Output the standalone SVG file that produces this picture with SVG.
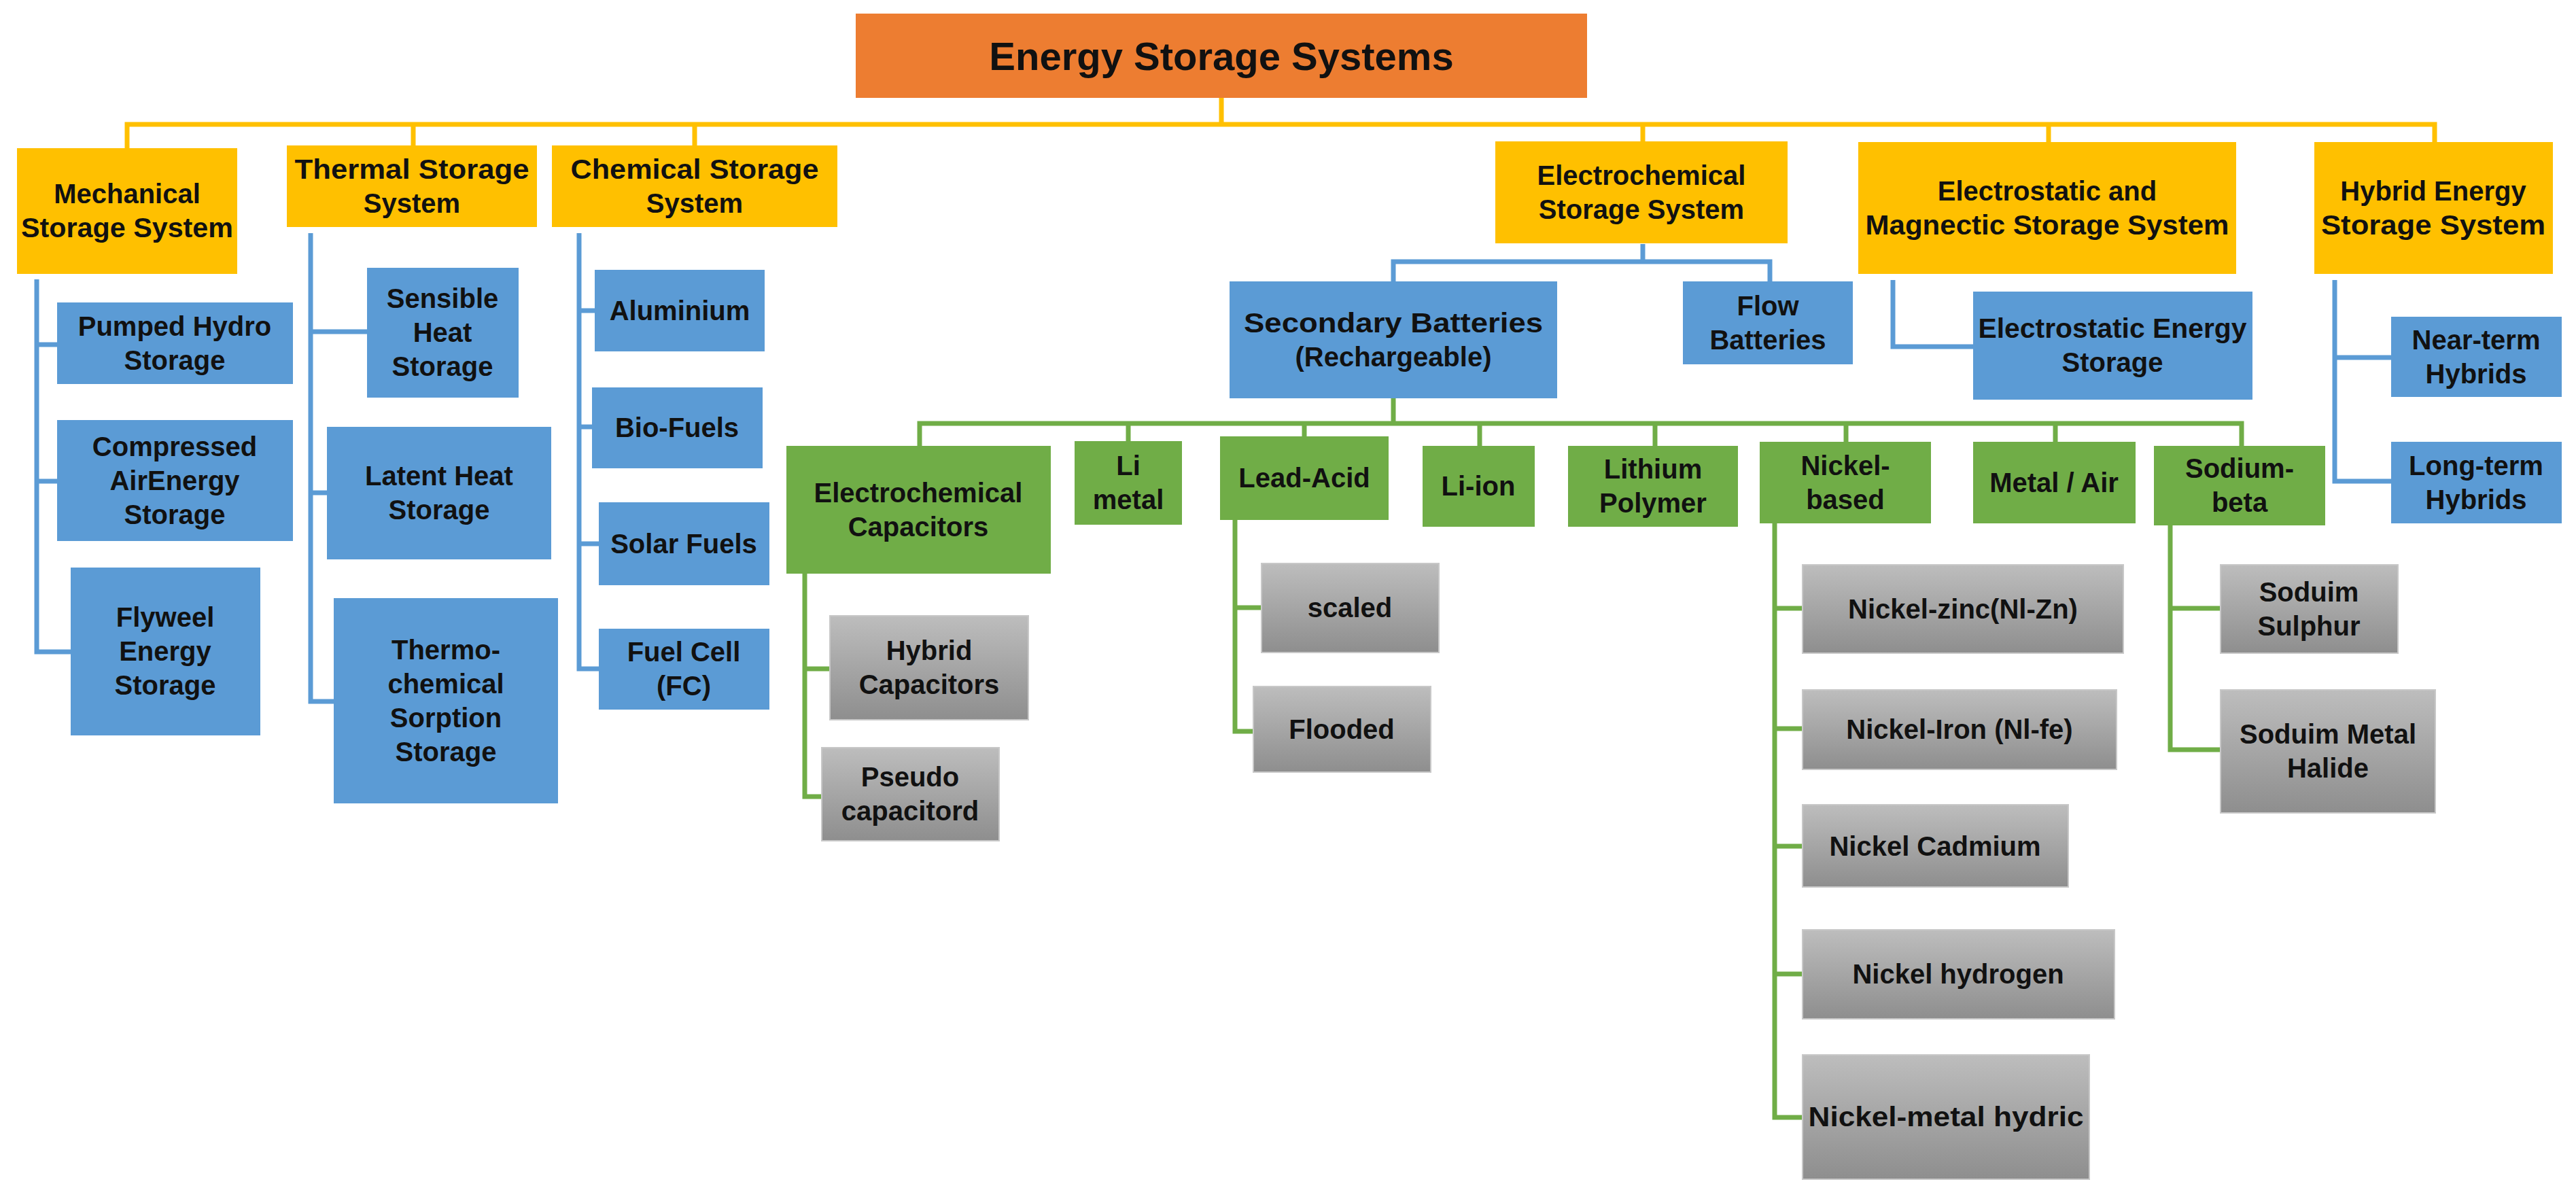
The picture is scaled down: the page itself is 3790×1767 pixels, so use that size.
<svg xmlns="http://www.w3.org/2000/svg" width="3790" height="1767" viewBox="0 0 3790 1767">
<defs>
<linearGradient id="gg" x1="0" y1="0" x2="0" y2="1"><stop offset="0" stop-color="#bdbdbd"/><stop offset="1" stop-color="#8e8e8e"/></linearGradient>
</defs>
<style>
text{font-family:"Liberation Sans",Arial,sans-serif;font-weight:bold;font-size:40px;text-anchor:middle;fill:#111}
.o{fill:#ED7D31}.y{fill:#FFC000}.b{fill:#5B9BD5}.g{fill:#70AD47}.r{fill:url(#gg);stroke:#c8c8c8;stroke-width:2}
.cy{stroke:#FFC000;stroke-width:7;fill:none}.cb{stroke:#5B9BD5;stroke-width:7;fill:none}.cg{stroke:#70AD47;stroke-width:7;fill:none}
</style>
<rect width="3790" height="1767" fill="#fff"/>
<g id="connectors">
<path class="cy" d="M1797,144V183M187,218V183H3582V209M608,183V214M1022,183V214M2417,183V208M3014,183V209"/>
<path class="cb" d="M54,411V959H104M54,507H84M54,708H84"/>
<path class="cb" d="M457,343V1032H491M457,488H540M457,725H481"/>
<path class="cb" d="M852,343V984H881M852,457H875M852,628H871M852,800H881"/>
<path class="cb" d="M2417,359V385M2050,414V385H2604V414"/>
<path class="cb" d="M2785,412V510H2903"/>
<path class="cb" d="M3435,412V708H3518M3435,526H3518"/>
<path class="cg" d="M2050,586V623M1353,656V623H3298V656M1660,623V649M1919,623V642M2177,623V656M2435,623V656M2716,623V650M3024,623V650"/>
<path class="cg" d="M1184,844V1172H1209M1184,984H1221"/>
<path class="cg" d="M1817,765V1076H1844M1817,894H1856"/>
<path class="cg" d="M2611,770V1644H2652M2611,895H2652M2611,1072H2652M2611,1245H2652M2611,1433H2652"/>
<path class="cg" d="M3193,773V1103H3267M3193,895H3267"/>
</g>
<g id="root"><rect class="o" x="1259" y="20" width="1076" height="124"/><text x="1797" y="103" style="font-size:58px">Energy Storage Systems</text></g>
<g id="mech"><rect class="y" x="25" y="218" width="324" height="185"/><text x="187" y="299">Mechanical</text><text x="187" y="349" textLength="312" lengthAdjust="spacingAndGlyphs">Storage System</text></g>
<g id="thermal"><rect class="y" x="422" y="214" width="368" height="120"/><text x="606" y="263" textLength="345" lengthAdjust="spacingAndGlyphs">Thermal Storage</text><text x="606" y="313">System</text></g>
<g id="chemical"><rect class="y" x="812" y="214" width="420" height="120"/><text x="1022" y="263" textLength="365" lengthAdjust="spacingAndGlyphs">Chemical Storage</text><text x="1022" y="313">System</text></g>
<g id="electrochem"><rect class="y" x="2200" y="208" width="430" height="150"/><text x="2415" y="272">Electrochemical</text><text x="2415" y="322">Storage System</text></g>
<g id="electrostatic"><rect class="y" x="2734" y="209" width="556" height="194"/><text x="3012" y="295">Electrostatic and</text><text x="3012" y="345" textLength="535" lengthAdjust="spacingAndGlyphs">Magnectic Storage System</text></g>
<g id="hybrid"><rect class="y" x="3405" y="209" width="351" height="194"/><text x="3580" y="295">Hybrid Energy</text><text x="3580" y="345" textLength="330" lengthAdjust="spacingAndGlyphs">Storage System</text></g>
<g id="pumped"><rect class="b" x="84" y="445" width="347" height="120"/><text x="257" y="494">Pumped Hydro</text><text x="257" y="544">Storage</text></g>
<g id="compressed"><rect class="b" x="84" y="618" width="347" height="178"/><text x="257" y="671">Compressed</text><text x="257" y="721">AirEnergy</text><text x="257" y="771">Storage</text></g>
<g id="flyweel"><rect class="b" x="104" y="835" width="279" height="247"/><text x="243" y="922">Flyweel</text><text x="243" y="972">Energy</text><text x="243" y="1022">Storage</text></g>
<g id="sensible"><rect class="b" x="540" y="394" width="223" height="191"/><text x="651" y="453">Sensible</text><text x="651" y="503">Heat</text><text x="651" y="553">Storage</text></g>
<g id="latent"><rect class="b" x="481" y="628" width="330" height="195"/><text x="646" y="714">Latent Heat</text><text x="646" y="764">Storage</text></g>
<g id="thermo"><rect class="b" x="491" y="880" width="330" height="302"/><text x="656" y="970">Thermo-</text><text x="656" y="1020">chemical</text><text x="656" y="1070">Sorption</text><text x="656" y="1120">Storage</text></g>
<g id="aluminium"><rect class="b" x="875" y="397" width="250" height="120"/><text x="1000" y="471">Aluminium</text></g>
<g id="biofuels"><rect class="b" x="871" y="570" width="251" height="119"/><text x="996" y="643">Bio-Fuels</text></g>
<g id="solar"><rect class="b" x="881" y="739" width="251" height="122"/><text x="1006" y="814">Solar Fuels</text></g>
<g id="fuelcell"><rect class="b" x="881" y="925" width="251" height="119"/><text x="1006" y="973">Fuel Cell</text><text x="1006" y="1023">(FC)</text></g>
<g id="secondary"><rect class="b" x="1809" y="414" width="482" height="172"/><text x="2050" y="489" textLength="440" lengthAdjust="spacingAndGlyphs">Secondary Batteries</text><text x="2050" y="539">(Rechargeable)</text></g>
<g id="flow"><rect class="b" x="2476" y="414" width="250" height="122"/><text x="2601" y="464">Flow</text><text x="2601" y="514">Batteries</text></g>
<g id="es-energy"><rect class="b" x="2903" y="429" width="411" height="159"/><text x="3108" y="497" textLength="395" lengthAdjust="spacingAndGlyphs">Electrostatic Energy</text><text x="3108" y="547">Storage</text></g>
<g id="nearterm"><rect class="b" x="3518" y="466" width="251" height="118"/><text x="3643" y="514">Near-term</text><text x="3643" y="564">Hybrids</text></g>
<g id="longterm"><rect class="b" x="3518" y="650" width="251" height="120"/><text x="3643" y="699">Long-term</text><text x="3643" y="749">Hybrids</text></g>
<g id="eccap"><rect class="g" x="1157" y="656" width="389" height="188"/><text x="1351" y="739">Electrochemical</text><text x="1351" y="789">Capacitors</text></g>
<g id="limetal"><rect class="g" x="1581" y="649" width="158" height="123"/><text x="1660" y="699">Li</text><text x="1660" y="749">metal</text></g>
<g id="leadacid"><rect class="g" x="1795" y="642" width="248" height="123"/><text x="1919" y="717">Lead-Acid</text></g>
<g id="liion"><rect class="g" x="2093" y="656" width="165" height="119"/><text x="2175" y="729">Li-ion</text></g>
<g id="lipoly"><rect class="g" x="2307" y="656" width="250" height="119"/><text x="2432" y="704">Lithium</text><text x="2432" y="754">Polymer</text></g>
<g id="nickel"><rect class="g" x="2589" y="650" width="252" height="120"/><text x="2715" y="699">Nickel-</text><text x="2715" y="749">based</text></g>
<g id="metalair"><rect class="g" x="2903" y="650" width="239" height="120"/><text x="3022" y="724">Metal / Air</text></g>
<g id="sodium"><rect class="g" x="3169" y="656" width="252" height="117"/><text x="3295" y="703">Sodium-</text><text x="3295" y="753">beta</text></g>
<g id="hybridcap"><rect class="r" x="1221" y="906" width="292" height="153"/><text x="1367" y="971">Hybrid</text><text x="1367" y="1021">Capacitors</text></g>
<g id="pseudo"><rect class="r" x="1209" y="1100" width="261" height="137"/><text x="1339" y="1157">Pseudo</text><text x="1339" y="1207">capacitord</text></g>
<g id="scaled"><rect class="r" x="1856" y="829" width="261" height="131"/><text x="1986" y="908">scaled</text></g>
<g id="flooded"><rect class="r" x="1844" y="1010" width="261" height="126"/><text x="1974" y="1087">Flooded</text></g>
<g id="nizn"><rect class="r" x="2652" y="831" width="472" height="130"/><text x="2888" y="910">Nickel-zinc(Nl-Zn)</text></g>
<g id="nife"><rect class="r" x="2652" y="1015" width="462" height="117"/><text x="2883" y="1087">Nickel-Iron (Nl-fe)</text></g>
<g id="nicd"><rect class="r" x="2652" y="1184" width="391" height="121"/><text x="2847" y="1259">Nickel Cadmium</text></g>
<g id="nih"><rect class="r" x="2652" y="1368" width="459" height="131"/><text x="2881" y="1447">Nickel hydrogen</text></g>
<g id="nimh"><rect class="r" x="2652" y="1552" width="422" height="183"/><text x="2863" y="1657" textLength="405" lengthAdjust="spacingAndGlyphs">Nickel-metal hydric</text></g>
<g id="nas"><rect class="r" x="3267" y="831" width="261" height="130"/><text x="3397" y="885">Soduim</text><text x="3397" y="935">Sulphur</text></g>
<g id="nahalide"><rect class="r" x="3267" y="1015" width="316" height="181"/><text x="3425" y="1094">Soduim Metal</text><text x="3425" y="1144">Halide</text></g>
</svg>
